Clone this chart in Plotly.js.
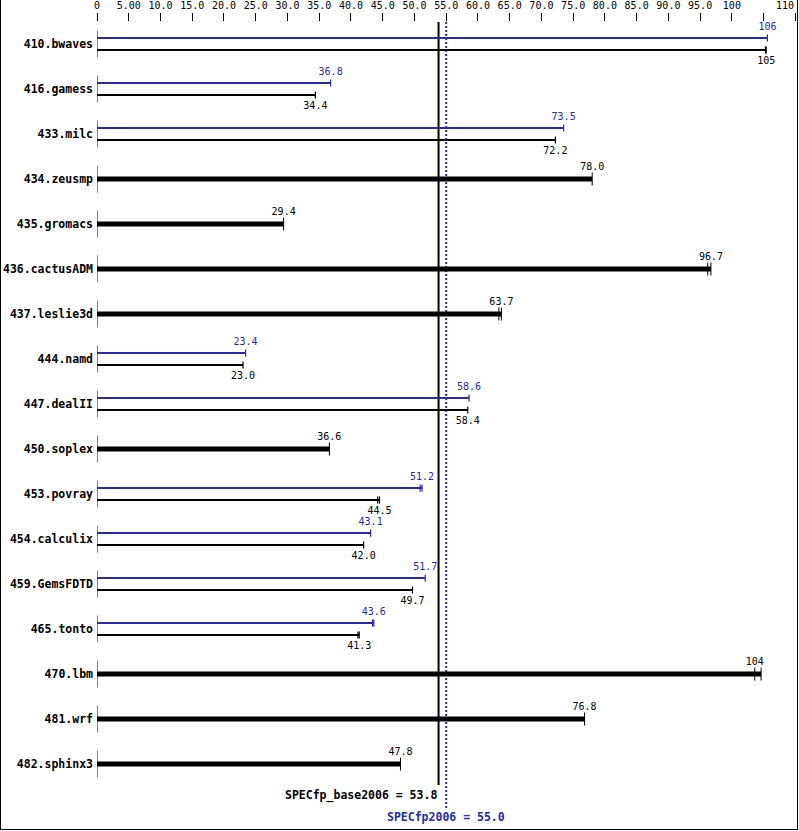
<!DOCTYPE html>
<html>
<head>
<meta charset="utf-8">
<script src="https://cdn.plot.ly/plotly-3.0.1.min.js"></script>
<style>
  html, body { margin: 0; padding: 0; background: #fff; }
  #wrap { position: absolute; left: 0; top: 0; width: 796px; height: 829px;
          border-left: 1px solid #000; border-right: 1px solid #000; border-bottom: 1px solid #000; }
  #chart { width: 796px; height: 829px; }
</style>
</head>
<body>
<div id="wrap"><div id="chart"></div></div>
<script>
// ---------------- data ----------------
const benchmarks = ["410.bwaves","416.gamess","433.milc","434.zeusmp","435.gromacs","436.cactusADM",
  "437.leslie3d","444.namd","447.dealII","450.soplex","453.povray","454.calculix","459.GemsFDTD",
  "465.tonto","470.lbm","481.wrf","482.sphinx3"];
const baseScores = [105.4, 34.4, 72.2, 78.0, 29.4, 96.7, 63.7, 23.0, 58.4, 36.6, 44.5, 42.0, 49.7, 41.3, 103.6, 76.8, 47.8];
// null = peak equals base (single thick bar)
const peakScores = [105.6, 36.8, 73.5, null, null, null, null, 23.4, 58.6, null, 51.2, 43.1, 51.7, 43.6, null, null, null];
const baseOtherRuns = [[105.3], [], [], [], [], [96.2], [63.3], [], [], [], [44.2], [], [], [41.1], [104.6], [], []];
const peakOtherRuns = [[], [], [], [], [], [], [], [], [], [], [50.9], [], [], [43.4], [], [], []];
const xTickVals = [0,5,10,15,20,25,30,35,40,45,50,55,60,65,70,75,80,85,90,95,100,105,110];
const xTickText = ["0","5.00","10.0","15.0","20.0","25.0","30.0","35.0","40.0","45.0","50.0","55.0",
  "60.0","65.0","70.0","75.0","80.0","85.0","90.0","95.0","100","",""];
const lastTickLabel = "110";   // drawn right-aligned at the last tick (would be cut off if centred)
const lastTickValue = 110;
const specBaseName = "SPECfp_base2006";
const specPeakName = "SPECfp2006";
const specBase = 53.8;
const specPeak = 55.0;

// ---------------- build ----------------
const BLUE = "#2828a8";
const MONO = "DejaVu Sans Mono";
const fmt = v => v >= 100 ? String(Math.round(v)) : v.toFixed(1);

const dOff = 0.133;       // dual bar offset (rows)
const thinCap = 0.08;
const thickCap = 0.145;
const segHalf = 0.3;

const rowSegX = [], rowSegY = [];
const thickX = [], thickY = [], thickCapX = [], thickCapY = [];
const blueX = [], blueY = [], blueCapX = [], blueCapY = [];
const blackX = [], blackY = [], blackCapX = [], blackCapY = [];
const tBlueX = [], tBlueY = [], tBlueT = [];
const tBlackX = [], tBlackY = [], tBlackT = [];

benchmarks.forEach((b, i) => {
  rowSegX.push(0, 0, null); rowSegY.push(i - segHalf, i + segHalf, null);
  const base = baseScores[i];
  const bRuns = [base].concat(baseOtherRuns[i]);
  const bEnd = Math.max.apply(null, bRuns);
  const peak = peakScores[i];
  if (peak === null) {
    thickX.push(0, bEnd, null); thickY.push(i, i, null);
    bRuns.forEach(r => { thickCapX.push(r, r, null); thickCapY.push(i - thickCap, i + thickCap, null); });
    tBlackX.push(base); tBlackY.push(i - 0.26); tBlackT.push(fmt(base));
  } else {
    const pRuns = [peak].concat(peakOtherRuns[i]);
    const pEnd = Math.max.apply(null, pRuns);
    const yp = i - dOff, yb = i + dOff;
    blueX.push(0, pEnd, null); blueY.push(yp, yp, null);
    pRuns.forEach(r => { blueCapX.push(r, r, null); blueCapY.push(yp - thinCap, yp + thinCap, null); });
    blackX.push(0, bEnd, null); blackY.push(yb, yb, null);
    bRuns.forEach(r => { blackCapX.push(r, r, null); blackCapY.push(yb - thinCap, yb + thinCap, null); });
    tBlueX.push(peak); tBlueY.push(yp - 0.235); tBlueT.push(fmt(peak));
    tBlackX.push(base); tBlackY.push(yb + 0.265); tBlackT.push(fmt(base));
  }
});

const yTop = -0.489, yBot = 17.444;

const line = (x, y, color, width, dash) => ({
  type: "scatter", mode: "lines", x, y, hoverinfo: "skip", showlegend: false,
  line: { color, width, dash: dash || "solid" }
});
const txt = (x, y, t, color) => ({
  type: "scatter", mode: "text", x, y, text: t, textposition: "middle center",
  textfont: { family: MONO, size: 10, color }, hoverinfo: "skip", showlegend: false, cliponaxis: false
});

const traces = [
  line([specBase, specBase], [yTop, 16.467], "#000", 2),
  line([specPeak, specPeak], [yTop, 16.978], BLUE, 2, "2px,2px"),
  line(rowSegX, rowSegY, "#000", 1),
  line(thickX, thickY, "#000", 5),
  line(thickCapX, thickCapY, "#000", 1),
  line(blueX, blueY, BLUE, 2),
  line(blueCapX, blueCapY, BLUE, 1.2),
  line(blackX, blackY, "#000", 2),
  line(blackCapX, blackCapY, "#000", 1.2),
  txt(tBlueX, tBlueY, tBlueT, BLUE),
  txt(tBlackX, tBlackY, tBlackT, "#000")
];

const layout = {
  width: 796, height: 829,
  margin: { l: 96, r: 1, t: 22, b: 0, pad: 0 },
  paper_bgcolor: "#fff", plot_bgcolor: "#fff",
  showlegend: false, hovermode: false,
  xaxis: {
    side: "top", range: [0, 110.1], autorange: false,
    tickmode: "array", tickvals: xTickVals, ticktext: xTickText,
    ticks: "outside", ticklen: 8, tickwidth: 1, tickcolor: "#000",
    showgrid: false, zeroline: false, showline: false, automargin: false,
    tickfont: { family: MONO, size: 10, color: "#000" }
  },
  yaxis: {
    range: [yBot, yTop], autorange: false,
    tickmode: "array", tickvals: benchmarks.map((b, i) => i), ticktext: benchmarks,
    ticks: "", ticklabelstandoff: 3, showgrid: false, zeroline: false, showline: false, automargin: false,
    tickfont: { family: MONO, size: 11.5, color: "#000", weight: "bold" }
  },
  annotations: [
    { x: lastTickValue, y: 1.0205, xref: "x", yref: "paper", xanchor: "right", yanchor: "middle",
      text: lastTickLabel, showarrow: false, borderpad: 0,
      font: { family: MONO, size: 10, color: "#000" } },
    { x: specBase, y: 16.689, xref: "x", yref: "y", xanchor: "right", yanchor: "middle",
      text: specBaseName + " = " + specBase.toFixed(1), showarrow: false,
      font: { family: MONO, size: 11.5, color: "#000", weight: "bold" } },
    { x: specPeak, y: 17.178, xref: "x", yref: "y", xanchor: "center", yanchor: "middle",
      text: specPeakName + " = " + specPeak.toFixed(1), showarrow: false,
      font: { family: MONO, size: 11.5, color: BLUE, weight: "bold" } }
  ]
};

Plotly.newPlot("chart", traces, layout, { staticPlot: true, displayModeBar: false });
</script>
</body>
</html>
